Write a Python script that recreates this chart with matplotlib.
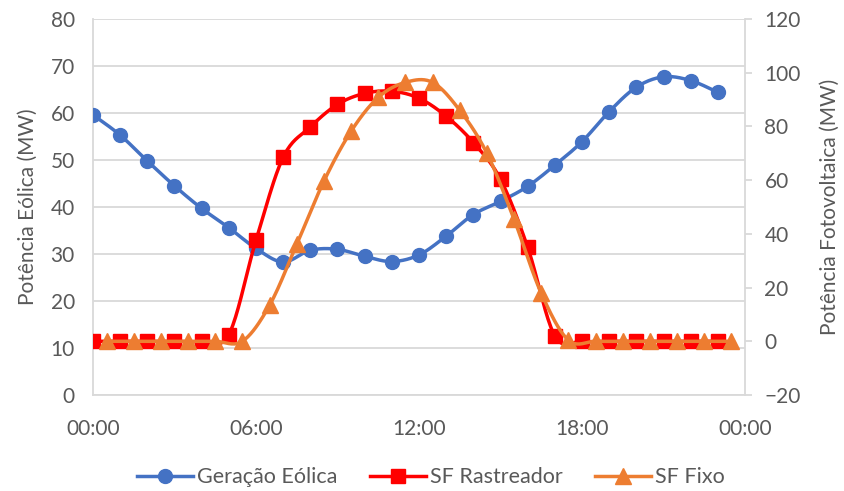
import numpy as np
import matplotlib
matplotlib.use("Agg")
import matplotlib.pyplot as plt
from matplotlib.lines import Line2D

plt.rcParams['font.family'] = ['Lato', 'DejaVu Sans']

# Hourly wind generation (left axis, MW)
wind_hours = list(range(24))
wind_mw = [59.6, 55.3, 49.8, 44.5, 39.7, 35.6, 31.2, 28.3, 30.8, 31.0, 29.5, 28.4,
           29.8, 33.8, 38.4, 41.2, 44.4, 48.9, 53.9, 60.3, 65.5, 67.7, 66.9, 64.4]

# Tracking PV plant (right axis, MW)
tracker_hours = list(range(24))
tracker_mw = [0, 0, 0, 0, 0, 2.5, 37.6, 68.5, 79.8, 88.2, 92.3, 93.1,
              90.5, 83.8, 74.0, 60.3, 35.0, 2.0, 0, 0, 0, 0, 0, 0]

# Fixed-tilt PV plant (right axis, MW), sampled at the half hour
fixed_hours = [h + 0.5 for h in range(24)]
fixed_mw = [0, 0, 0, 0, 0, 0, 13.4, 36.1, 59.6, 78.2, 90.8, 96.4,
            96.4, 86.0, 70.0, 45.4, 17.9, 0.4, 0, 0, 0, 0, 0, 0]

x_ticks = [0, 6, 12, 18, 24]
x_tick_labels = ["00:00", "06:00", "12:00", "18:00", "00:00"]


def smooth(xs, ys, n=20):
    """Bezier smoothing through every point (Catmull-Rom style)."""
    xs = np.asarray(xs, float)
    ys = np.asarray(ys, float)
    pts = np.column_stack([xs, ys])
    out = []
    for i in range(len(pts) - 1):
        p0 = pts[i - 1] if i > 0 else pts[i]
        p1 = pts[i]
        p2 = pts[i + 1]
        p3 = pts[i + 2] if i + 2 < len(pts) else pts[i + 1]
        c1 = p1 + (p2 - p0) / 6.0
        c2 = p2 - (p3 - p1) / 6.0
        t = np.linspace(0, 1, n, endpoint=(i == len(pts) - 2))[:, None]
        seg = ((1 - t) ** 3) * p1 + 3 * ((1 - t) ** 2) * t * c1 + 3 * (1 - t) * t ** 2 * c2 + t ** 3 * p2
        out.append(seg)
    out = np.vstack(out)
    return out[:, 0], out[:, 1]


blue = "#4472C4"
red = "#FF0000"
orange = "#ED7D31"
text_gray = "#595959"
grid_gray = "#D9D9D9"
fs = 15

fig = plt.figure(figsize=(8.45, 4.91), dpi=100)
ax = fig.add_axes([0.110, 0.1955, 0.7717, 0.7658])
ax2 = ax.twinx()

ax.set_xlim(0, 24)
ax.set_ylim(0, 80)
ax.set_yticks(range(0, 81, 10))
ax2.set_ylim(-20, 120)
ax2.set_yticks(range(-20, 121, 20))

ax.set_axisbelow(True)
ax.grid(axis="y", color=grid_gray, linewidth=1.3)
ax.set_xticks(x_ticks)
ax.set_xticklabels(x_tick_labels)

for a in (ax, ax2):
    for s in a.spines.values():
        s.set_visible(False)
ax.spines["left"].set_visible(True)
ax.spines["left"].set_color(grid_gray)
ax.spines["left"].set_linewidth(1.3)
ax.spines["bottom"].set_visible(True)
ax.spines["bottom"].set_color(grid_gray)
ax.spines["bottom"].set_linewidth(1.3)
ax2.spines["right"].set_visible(True)
ax2.spines["right"].set_color(grid_gray)
ax2.spines["right"].set_linewidth(1.3)

ax.tick_params(axis="y", length=0, labelsize=fs, labelcolor=text_gray, pad=13)
ax.tick_params(axis="x", length=0, labelsize=fs, labelcolor=text_gray, pad=17)
ax2.tick_params(axis="y", length=5, width=1.3, color=grid_gray, labelsize=fs,
                labelcolor=text_gray, pad=9)

ax.set_ylabel("Potência Eólica (MW)", fontsize=fs, color=text_gray, labelpad=9)
ax2.set_ylabel("Potência Fotovoltaica (MW)", fontsize=fs, color=text_gray, labelpad=14)

# Wind generation
sx, sy = smooth(wind_hours, wind_mw)
ax.plot(sx, sy, color=blue, linewidth=2.5, zorder=3)
ax.plot(wind_hours, wind_mw, linestyle="none", marker="o", markersize=10,
        color=blue, zorder=4)

# PV series on the secondary axis
sx, sy = smooth(tracker_hours, tracker_mw)
ax2.plot(sx, sy, color=red, linewidth=2.5, zorder=3)
ax2.plot(tracker_hours, tracker_mw, linestyle="none", marker="s", markersize=10,
         color=red, zorder=4)

sx, sy = smooth(fixed_hours, fixed_mw)
ax2.plot(sx, sy, color=orange, linewidth=2.5, zorder=5)
ax2.plot(fixed_hours, fixed_mw, linestyle="none", marker="^", markersize=11,
         color=orange, zorder=6)

handles = [
    Line2D([], [], color=blue, linewidth=2.5, marker="o", markersize=10),
    Line2D([], [], color=red, linewidth=2.5, marker="s", markersize=10),
    Line2D([], [], color=orange, linewidth=2.5, marker="^", markersize=11),
]
labels = ["Geração Eólica", "SF Rastreador", "SF Fixo"]
fig.legend(handles, labels, loc="center", bbox_to_anchor=(0.51, 0.028), ncol=3,
           frameon=False, fontsize=15.5, labelcolor=text_gray, handlelength=2.6,
           handletextpad=0.2, columnspacing=1.5)

fig.savefig("out.png", dpi=100)
